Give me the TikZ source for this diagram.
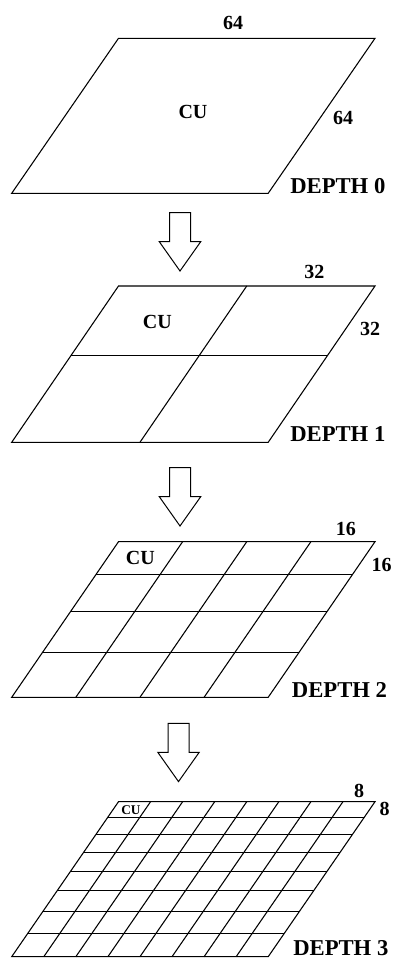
\documentclass[tikz,border=0pt]{standalone}
\usepackage{fontspec}
\setmainfont{Liberation Serif}
\newcommand{\cuplane}[4]{% #1 top y, #2 height, #3 divisions, #4 name
  \coordinate (#4tl) at (118.5,#1);
  \coordinate (#4tr) at (375,#1);
  \coordinate (#4br) at (268.2,#1+#2);
  \coordinate (#4bl) at (11.7,#1+#2);
  \draw[gridline] (#4tl) -- (#4tr) -- (#4br) -- (#4bl) -- cycle;
  \ifnum#3>1
    \pgfmathtruncatemacro{\nlast}{#3-1}%
    \foreach \k in {1,...,\nlast}{%
      \pgfmathsetmacro{\ff}{\k/#3}%
      \pgfmathsetmacro{\tt}{\ff-0.21*\ff*(1-\ff)}%
      \draw[gridline] ({118.5-106.8*\tt},{#1+#2*\tt}) -- ({375-106.8*\tt},{#1+#2*\tt});
      \draw[gridline] ({118.5+256.5*\k/#3},#1) -- ({11.7+256.5*\k/#3},{#1+#2});
    }%
  \fi
}
\begin{document}
\begin{tikzpicture}[x=0.75pt,y=-0.75pt,
  gridline/.style={line width=0.8pt, line join=miter},
  lbl/.style={font=\fontsize{15}{15}\selectfont\bfseries, inner sep=0pt},
  smalllbl/.style={font=\fontsize{10}{10}\selectfont\bfseries, inner sep=0pt},
  dlbl/.style={font=\fontsize{17}{17}\selectfont\bfseries, inner sep=0pt, anchor=base west},
  blockarrow/.pic={\draw[line width=0.75pt, line join=miter] (-10.5,0) -- (10.5,0) -- (10.5,29) -- (20.7,29) -- (0,58.3) -- (-20.7,29) -- (-10.5,29) -- cycle;}
]
\useasboundingbox (0,0) rectangle (393,959);

% Depth 0
\cuplane{38.3}{155}{1}{pa}
\node[lbl] (w0) at (233,23.3) {64};
\node[lbl] (h0) at (343,118.3) {64};
\node[lbl] (cu0) at (193,111.7) {CU};
\node[dlbl] (d0) at (290,193.3) {DEPTH 0};
\pic at (180,212.7) {blockarrow};

% Depth 1
\cuplane{286}{156.3}{2}{pb}
\node[lbl] (w1) at (314.3,271.6) {32};
\node[lbl] (h1) at (370,329) {32};
\node[lbl] (cu1) at (157.3,321.7) {CU};
\node[dlbl] (d1) at (290,441.7) {DEPTH 1};
\pic at (180,467.7) {blockarrow};

% Depth 2
\cuplane{541.7}{155.6}{4}{pc}
\node[lbl] (w2) at (345.8,528.5) {16};
\node[lbl] (h2) at (381.7,565) {16};
\node[lbl] (cu2) at (140.3,558) {CU};
\node[dlbl] (d2) at (291.7,697.5) {DEPTH 2};
\pic at (178.5,723.3) {blockarrow};

% Depth 3
\cuplane{801.7}{155}{8}{pd}
\node[lbl] (w3) at (359.2,790.8) {8};
\node[lbl] (h3) at (384.5,809.3) {8};
\node[smalllbl] (cu3) at (131,809.7) {CU};
\node[dlbl] (d3) at (293,955) {DEPTH 3};
\end{tikzpicture}
\end{document}
